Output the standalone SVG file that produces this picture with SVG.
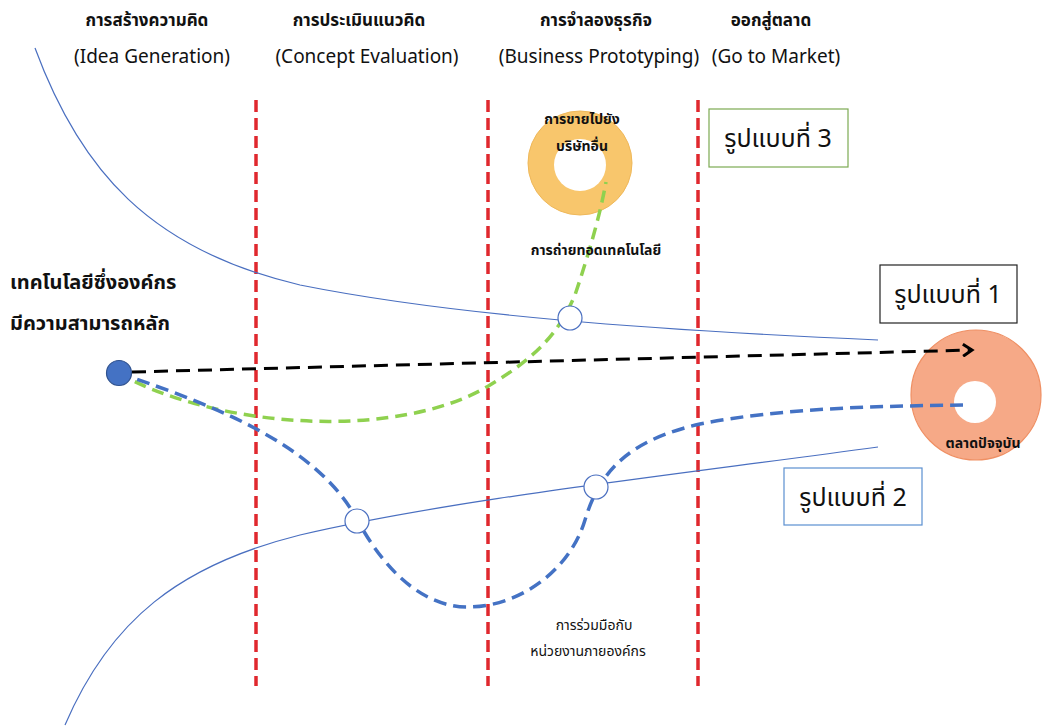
<svg xmlns="http://www.w3.org/2000/svg" width="1049" height="727" viewBox="0 0 1049 727">
<style>
text{font-family:"Noto Sans Thai","Tahoma","Noto Sans","Liberation Sans",sans-serif;fill:#111}
.hth{font-size:17px;font-weight:bold;text-anchor:middle}
.hen{font-size:19px;text-anchor:middle}
.sm{font-size:14px;text-anchor:middle}
.smb{font-size:14px;font-weight:bold;text-anchor:middle}
.big{font-size:20px;font-weight:bold}
.box{font-size:25px;text-anchor:middle}
.thin{fill:none;stroke:#4a6fc0;stroke-width:1.2}
.phase{stroke:#e0282e;stroke-width:3.5;stroke-dasharray:12 6;fill:none}
.ring{fill:#fff;stroke:#4a6fc0;stroke-width:1.2}
</style>
<defs>
<marker id="chev" markerWidth="14" markerHeight="14" refX="11" refY="7" orient="auto" markerUnits="userSpaceOnUse">
<path d="M2,1 L11,7 L2,13" fill="none" stroke="#000" stroke-width="3"/>
</marker>
</defs>
<rect width="1049" height="727" fill="#fff"/>

<g id="headers">
<text class="hth" x="147" y="26">การสร้างความคิด</text>
<text class="hen" x="152" y="63">(Idea Generation)</text>
<text class="hth" x="359" y="26">การประเมินแนวคิด</text>
<text class="hen" x="367" y="63">(Concept Evaluation)</text>
<text class="hth" x="596" y="26">การจำลองธุรกิจ</text>
<text class="hen" x="599" y="63">(Business Prototyping)</text>
<text class="hth" x="771" y="26">ออกสู่ตลาด</text>
<text class="hen" x="776" y="63">(Go to Market)</text>
</g>

<g id="phase-lines">
<line class="phase" x1="256" y1="100" x2="256" y2="686"/>
<line class="phase" x1="488" y1="100" x2="488" y2="686"/>
<line class="phase" x1="698" y1="100" x2="698" y2="686"/>
</g>

<g id="market-donut-top">
<circle cx="580" cy="163" r="52" fill="#f8c66c" stroke="#efb85a" stroke-width="1"/>
<circle cx="580" cy="165" r="26" fill="#fff"/>
<text class="smb" x="582" y="124">การขายไปยัง</text>
<text class="smb" x="582" y="151">บริษัทอื่น</text>
</g>

<g id="market-donut-current">
<circle cx="976" cy="395" r="65" fill="#f6a987" stroke="#ef8f63" stroke-width="1.2"/>
<circle cx="975" cy="402" r="21" fill="#fff"/>
<text class="smb" x="983" y="448">ตลาดปัจจุบัน</text>
</g>

<g id="connectors">
<path class="thin" d="M35,48 C80,170 150,250 300,285 C450,315 650,330 878,340"/>
<path class="thin" d="M65,725 C110,620 180,565 300,535 C450,500 650,478 878,447"/>
<line x1="132" y1="372" x2="972" y2="350" stroke="#000" stroke-width="3" stroke-dasharray="14 8" marker-end="url(#chev)"/>
<path d="M118,373 C220,430 400,440 490,385 C540,355 560,330 575,295 C590,250 600,215 606,182" fill="none" stroke="#8fd14f" stroke-width="3.5" stroke-dasharray="12 7"/>
<path d="M118,373 C230,410 320,450 358,521 C390,580 430,607 467,607 C520,607 570,570 585,520 C600,470 630,440 700,424 C780,408 880,406 965,405" fill="none" stroke="#4472c4" stroke-width="3.5" stroke-dasharray="13 7"/>
</g>

<g id="junctions">
<circle class="ring" cx="570" cy="318" r="12"/>
<circle class="ring" cx="357" cy="521" r="12"/>
<circle class="ring" cx="596" cy="487" r="12"/>
</g>

<g id="core-tech">
<circle cx="119" cy="373" r="12.5" fill="#4472c4" stroke="#2f528f" stroke-width="1.2"/>
<text class="big" x="10" y="289">เทคโนโลยีซึ่งองค์กร</text>
<text class="big" x="10" y="330">มีความสามารถหลัก</text>
</g>

<g id="transfer-label">
<text class="smb" x="596" y="255">การถ่ายทอดเทคโนโลยี</text>
</g>

<g id="collab-label">
<text class="sm" x="594" y="630">การร่วมมือกับ</text>
<text class="sm" x="588" y="656">หน่วยงานภายองค์กร</text>
</g>

<g id="model-3">
<rect x="709" y="109" width="139" height="58" fill="#fff" stroke="#7caa52" stroke-width="1.2"/>
<text class="box" x="778" y="147">รูปแบบที่ 3</text>
</g>
<g id="model-1">
<rect x="880" y="265" width="137" height="58" fill="#fff" stroke="#222" stroke-width="1.2"/>
<text class="box" x="948" y="303">รูปแบบที่ 1</text>
</g>
<g id="model-2">
<rect x="784" y="468" width="138" height="57" fill="#fff" stroke="#5b8fd0" stroke-width="1.2"/>
<text class="box" x="853" y="506">รูปแบบที่ 2</text>
</g>
</svg>
